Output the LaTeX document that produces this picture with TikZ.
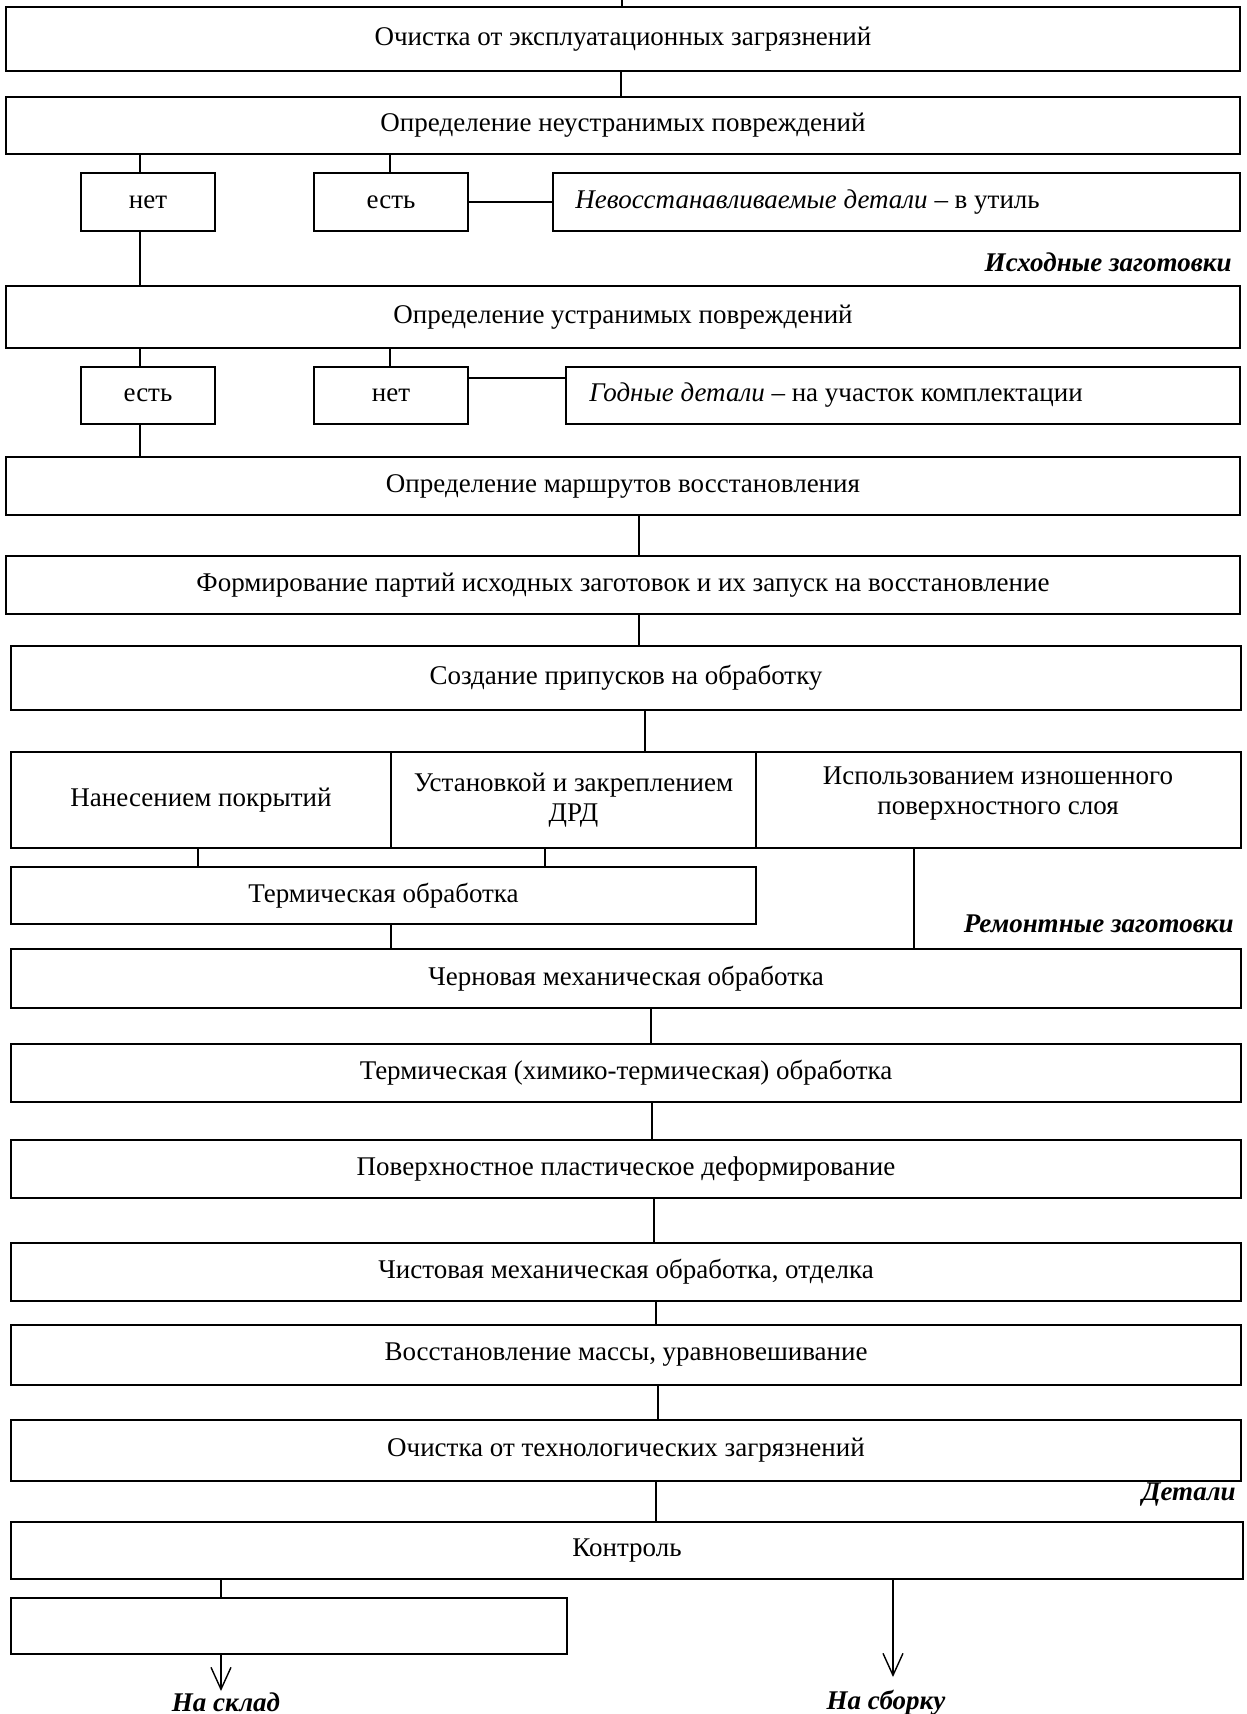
\documentclass[tikz,border=0pt]{standalone}
\usepackage{fontspec}
\setmainfont{Liberation Serif}
\usetikzlibrary{arrows.meta}
\newcommand\mybx[6]{\node[box,minimum width={(#4-#2)*0.5pt},minimum height={(#5-#3)*0.5pt}] (#1) at ({(#2+#4)/2},{(#3+#5)/2}) {#6};}
\begin{document}
\begin{tikzpicture}[x=0.5pt,y=-0.5pt,
  box/.style={draw,line width=1pt,inner sep=0pt,font=\fontsize{13.5}{15}\selectfont,align=center},
  txt/.style={inner sep=0pt,font=\fontsize{13.5}{15}\selectfont},
  conn/.style={line width=0.7pt},
  lab/.style={inner sep=0pt,font=\fontsize{13.5}{15}\selectfont\bfseries\itshape},
  arr/.style={conn,-{Straight Barb[length=11pt,width=10pt,line width=0.7pt]}}]
\useasboundingbox (0,0) rectangle (1247,1714);
% x positions of connectors
\coordinate (top) at (622,0);
\coordinate (xa) at (621,0);
\coordinate (xl) at (140,0);
\coordinate (xm) at (390,0);
\coordinate (xb) at (639,0);
\coordinate (xc) at (645,0);
\coordinate (xt1) at (198,0);
\coordinate (xt2) at (545,0);
\coordinate (xt3) at (391,0);
\coordinate (xr) at (914,0);
\coordinate (xd1) at (651,0);
\coordinate (xd2) at (652,0);
\coordinate (xd3) at (654,0);
\coordinate (xd4) at (656,0);
\coordinate (xd5) at (658,0);
\coordinate (xd6) at (656,0);
\coordinate (xk) at (221,0);
\coordinate (xs) at (893,0);
\coordinate (yg) at (0,378);
% boxes
\mybx{b1}{6}{7}{1240}{71}{Очистка от эксплуатационных загрязнений}
\mybx{b2}{6}{97}{1240}{154}{Определение неустранимых повреждений}
\mybx{n1}{81}{173}{215}{231}{нет}
\mybx{e1}{314}{173}{468}{231}{есть}
\mybx{r1}{553}{173}{1240}{231}{}
\node[txt,anchor=west] (r1t) at ([xshift=11.5pt]r1.west) {\textit{Невосстанавливаемые детали} – в утиль};
\node[lab,anchor=east] (l1) at (1232,262) {Исходные заготовки};
\mybx{b3}{6}{286}{1240}{348}{Определение устранимых повреждений}
\mybx{e2}{81}{367}{215}{424}{есть}
\mybx{n2}{314}{367}{468}{424}{нет}
\mybx{g2}{566}{367}{1240}{424}{}
\node[txt,anchor=west] (g2t) at ([xshift=12pt]g2.west) {\textit{Годные детали} – на участок комплектации};
\mybx{b4}{6}{457}{1240}{515}{Определение маршрутов восстановления}
\mybx{b5}{6}{556}{1240}{614}{Формирование партий исходных заготовок и их запуск на восстановление}
\mybx{b6}{11}{646}{1241}{710}{Создание припусков на обработку}
\mybx{t1}{11}{752}{391}{848}{Нанесением покрытий}
\mybx{t2}{391}{752}{756}{848}{Установкой и закреплением\\ДРД}
\mybx{t3}{756}{752}{1241}{848}{}
\node[txt,align=center] (t3t) at (998,794) {Использованием изношенного\\поверхностного слоя};
\mybx{tm}{11}{867}{756}{924}{Термическая обработка}
\node[lab,anchor=east] (l2) at (1234,924) {Ремонтные заготовки};
\mybx{c1}{11}{949}{1241}{1008}{Черновая механическая обработка}
\mybx{c2}{11}{1044}{1241}{1102}{Термическая (химико-термическая) обработка}
\mybx{c3}{11}{1140}{1241}{1198}{Поверхностное пластическое деформирование}
\mybx{c4}{11}{1243}{1241}{1301}{Чистовая механическая обработка, отделка}
\mybx{c5}{11}{1325}{1241}{1385}{Восстановление массы, уравновешивание}
\mybx{c6}{11}{1420}{1241}{1481}{Очистка от технологических загрязнений}
\node[lab,anchor=east] (l3) at (1236,1495) {Детали};
\mybx{k}{11}{1522}{1243}{1579}{Контроль}
\mybx{em}{11}{1598}{567}{1654}{}
\coordinate (a1) at (221,1691);
\coordinate (a2) at (893,1677);
\node[lab,anchor=north] (ls) at (226,1692) {На склад};
\node[lab,anchor=north] (lb) at (886,1690) {На сборку};
% connectors
\draw[conn] (top) -- (b1.north -| top);
\draw[conn] (b1.south -| xa) -- (b2.north -| xa);
\draw[conn] (b2.south -| xl) -- (n1.north -| xl);
\draw[conn] (b2.south -| xm) -- (e1.north -| xm);
\draw[conn] (e1.east) -- (r1.west);
\draw[conn] (n1.south -| xl) -- (b3.north -| xl);
\draw[conn] (b3.south -| xl) -- (e2.north -| xl);
\draw[conn] (b3.south -| xm) -- (n2.north -| xm);
\draw[conn] (n2.east |- yg) -- (g2.west |- yg);
\draw[conn] (e2.south -| xl) -- (b4.north -| xl);
\draw[conn] (b4.south -| xb) -- (b5.north -| xb);
\draw[conn] (b5.south -| xb) -- (b6.north -| xb);
\draw[conn] (b6.south -| xc) -- (t2.north -| xc);
\draw[conn] (t1.south -| xt1) -- (tm.north -| xt1);
\draw[conn] (t2.south -| xt2) -- (tm.north -| xt2);
\draw[conn] (tm.south -| xt3) -- (c1.north -| xt3);
\draw[conn] (t3.south -| xr) -- (c1.north -| xr);
\draw[conn] (c1.south -| xd1) -- (c2.north -| xd1);
\draw[conn] (c2.south -| xd2) -- (c3.north -| xd2);
\draw[conn] (c3.south -| xd3) -- (c4.north -| xd3);
\draw[conn] (c4.south -| xd4) -- (c5.north -| xd4);
\draw[conn] (c5.south -| xd5) -- (c6.north -| xd5);
\draw[conn] (c6.south -| xd6) -- (k.north -| xd6);
\draw[conn] (k.south -| xk) -- (em.north -| xk);
\draw[arr] (em.south -| xk) -- (a1);
\draw[arr] (k.south -| xs) -- (a2);
\end{tikzpicture}
\end{document}
